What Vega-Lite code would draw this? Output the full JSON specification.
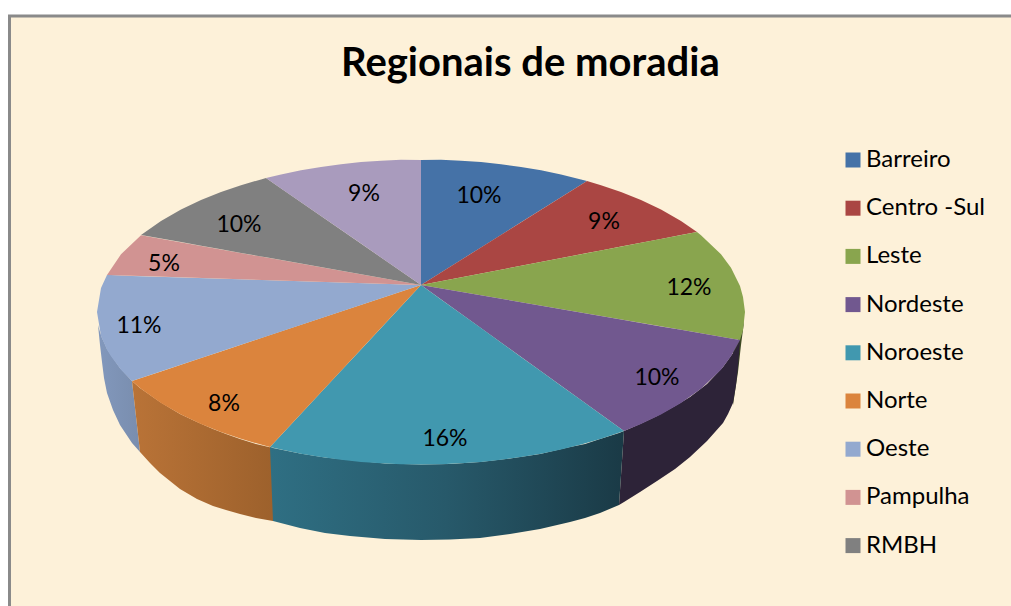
{
"$schema":"https://vega.github.io/schema/vega-lite/v6.json",
"width":1011,"height":606,"padding":0,"autosize":{"type":"none"},
"background":"#ffffff",
"config":{"view":{"stroke":null},"font":"Lato"},
"title":{"text":"Regionais de moradia","font":"Lato","fontSize":40,"fontWeight":"bold","color":"#000000","anchor":"start","frame":"group","offset":0,"dx":341,"dy":84},
"datasets":{
"moldura":[{"x0":9.5,"x1":1100,"y0":16,"y1":700}],
"topo":[
{"regiao":"Barreiro","x":421,"y":160,"y2":285},{"regiao":"Barreiro","x":441,"y":159.8,"y2":272.5},{"regiao":"Barreiro","x":461,"y":160.7,"y2":259.9},{"regiao":"Barreiro","x":481,"y":162.1,"y2":247.4},{"regiao":"Barreiro","x":501,"y":164.2,"y2":234.9},{"regiao":"Barreiro","x":521,"y":166.9,"y2":222.3},{"regiao":"Barreiro","x":541,"y":170.3,"y2":209.8},{"regiao":"Barreiro","x":561,"y":174.5,"y2":197.3},{"regiao":"Barreiro","x":581,"y":179.4,"y2":184.8},{"regiao":"Barreiro","x":587,"y":181,"y2":181},
{"regiao":"Centro -Sul","x":421,"y":285,"y2":285},{"regiao":"Centro -Sul","x":587,"y":181,"y2":253.1},{"regiao":"Centro -Sul","x":601,"y":185.2,"y2":250.4},{"regiao":"Centro -Sul","x":621,"y":192,"y2":246.6},{"regiao":"Centro -Sul","x":641,"y":200,"y2":242.8},{"regiao":"Centro -Sul","x":661,"y":209.6,"y2":238.9},{"regiao":"Centro -Sul","x":681,"y":221,"y2":235.1},{"regiao":"Centro -Sul","x":697,"y":232,"y2":232},
{"regiao":"Leste","x":421,"y":285,"y2":285},{"regiao":"Leste","x":697,"y":232,"y2":332.6},{"regiao":"Leste","x":701,"y":235.3,"y2":333.3},{"regiao":"Leste","x":721,"y":254.3,"y2":336.7},{"regiao":"Leste","x":731,"y":267.7,"y2":338.4},{"regiao":"Leste","x":740,"y":286,"y2":340},{"regiao":"Leste","x":743,"y":297,"y2":330},{"regiao":"Leste","x":745,"y":312,"y2":312},
{"regiao":"Nordeste","x":421,"y":285,"y2":285},{"regiao":"Nordeste","x":624,"y":320,"y2":431},{"regiao":"Nordeste","x":641,"y":323,"y2":424},{"regiao":"Nordeste","x":661,"y":326.4,"y2":414.4},{"regiao":"Nordeste","x":681,"y":329.8,"y2":403},{"regiao":"Nordeste","x":701,"y":333.3,"y2":388.7},{"regiao":"Nordeste","x":721,"y":336.7,"y2":369.7},{"regiao":"Nordeste","x":731,"y":338.4,"y2":356.3},{"regiao":"Nordeste","x":740,"y":340,"y2":340},
{"regiao":"Noroeste","x":270,"y":447,"y2":447},{"regiao":"Noroeste","x":281,"y":435.2,"y2":449.5},{"regiao":"Noroeste","x":301,"y":413.8,"y2":453.7},{"regiao":"Noroeste","x":321,"y":392.3,"y2":457.1},{"regiao":"Noroeste","x":341,"y":370.8,"y2":459.8},{"regiao":"Noroeste","x":361,"y":349.4,"y2":461.9},{"regiao":"Noroeste","x":381,"y":327.9,"y2":463.3},{"regiao":"Noroeste","x":401,"y":306.5,"y2":464.2},{"regiao":"Noroeste","x":421,"y":285,"y2":464.5},{"regiao":"Noroeste","x":441,"y":299.4,"y2":464.2},{"regiao":"Noroeste","x":461,"y":313.8,"y2":463.3},{"regiao":"Noroeste","x":481,"y":328.1,"y2":461.9},{"regiao":"Noroeste","x":501,"y":342.5,"y2":459.8},{"regiao":"Noroeste","x":521,"y":356.9,"y2":457.1},{"regiao":"Noroeste","x":541,"y":371.3,"y2":453.7},{"regiao":"Noroeste","x":561,"y":385.7,"y2":449.5},{"regiao":"Noroeste","x":581,"y":400,"y2":444.6},{"regiao":"Noroeste","x":601,"y":414.4,"y2":438.8},{"regiao":"Noroeste","x":624,"y":431,"y2":431},
{"regiao":"Norte","x":132,"y":381,"y2":381},{"regiao":"Norte","x":141,"y":378,"y2":388.7},{"regiao":"Norte","x":161,"y":371.4,"y2":403},{"regiao":"Norte","x":181,"y":364.7,"y2":414.4},{"regiao":"Norte","x":201,"y":358.1,"y2":424},{"regiao":"Norte","x":221,"y":351.4,"y2":432},{"regiao":"Norte","x":241,"y":344.8,"y2":438.8},{"regiao":"Norte","x":261,"y":338.1,"y2":444.6},{"regiao":"Norte","x":270,"y":335.1,"y2":447},{"regiao":"Norte","x":421,"y":285,"y2":285},
{"regiao":"Oeste","x":97,"y":312,"y2":312},{"regiao":"Oeste","x":101,"y":288.1,"y2":335.9},{"regiao":"Oeste","x":107,"y":275,"y2":349.7},{"regiao":"Oeste","x":111,"y":275.1,"y2":356.3},{"regiao":"Oeste","x":121,"y":275.5,"y2":369.7},{"regiao":"Oeste","x":132,"y":275.9,"y2":381},{"regiao":"Oeste","x":421,"y":285,"y2":285},
{"regiao":"Pampulha","x":107,"y":275,"y2":275},{"regiao":"Pampulha","x":121,"y":254.3,"y2":275.5},{"regiao":"Pampulha","x":141,"y":235.3,"y2":276},{"regiao":"Pampulha","x":421,"y":285,"y2":285},
{"regiao":"RMBH","x":141,"y":235,"y2":235},{"regiao":"RMBH","x":161,"y":221,"y2":238.6},{"regiao":"RMBH","x":181,"y":209.6,"y2":242.1},{"regiao":"RMBH","x":201,"y":200,"y2":245.7},{"regiao":"RMBH","x":221,"y":192,"y2":249.3},{"regiao":"RMBH","x":241,"y":185.2,"y2":252.9},{"regiao":"RMBH","x":261,"y":179.4,"y2":256.4},{"regiao":"RMBH","x":266,"y":178,"y2":257.3},{"regiao":"RMBH","x":421,"y":285,"y2":285},
{"regiao":"Venda Nova","x":266,"y":178,"y2":178},{"regiao":"Venda Nova","x":281,"y":174.5,"y2":188.4},{"regiao":"Venda Nova","x":301,"y":170.3,"y2":202.2},{"regiao":"Venda Nova","x":321,"y":166.9,"y2":216},{"regiao":"Venda Nova","x":341,"y":164.2,"y2":229.8},{"regiao":"Venda Nova","x":361,"y":162.1,"y2":243.6},{"regiao":"Venda Nova","x":381,"y":160.7,"y2":257.4},{"regiao":"Venda Nova","x":401,"y":159.8,"y2":271.2},{"regiao":"Venda Nova","x":421,"y":160,"y2":285}
],
"lado":[
{"regiao":"Oeste","x":98,"y":325,"y2":325},{"regiao":"Oeste","x":100,"y":332,"y2":345},{"regiao":"Oeste","x":102,"y":338,"y2":362},{"regiao":"Oeste","x":104,"y":342,"y2":378},{"regiao":"Oeste","x":107,"y":349,"y2":393},{"regiao":"Oeste","x":113,"y":358,"y2":410},{"regiao":"Oeste","x":120,"y":368,"y2":425},{"regiao":"Oeste","x":132,"y":381,"y2":443},{"regiao":"Oeste","x":140,"y":452,"y2":452},
{"regiao":"Norte","x":132,"y":381,"y2":381},{"regiao":"Norte","x":140,"y":388,"y2":452},{"regiao":"Norte","x":150,"y":395,"y2":463},{"regiao":"Norte","x":160,"y":402,"y2":473},{"regiao":"Norte","x":170,"y":408,"y2":481},{"regiao":"Norte","x":180,"y":414,"y2":489},{"regiao":"Norte","x":197,"y":422,"y2":499},{"regiao":"Norte","x":213,"y":429,"y2":506},{"regiao":"Norte","x":226,"y":434,"y2":510},{"regiao":"Norte","x":240,"y":439,"y2":514},{"regiao":"Norte","x":256,"y":444,"y2":518},{"regiao":"Norte","x":273,"y":448,"y2":521},
{"regiao":"Leste","x":733,"y":350,"y2":405},{"regiao":"Leste","x":736,"y":345,"y2":385},{"regiao":"Leste","x":738,"y":340,"y2":372},{"regiao":"Leste","x":741,"y":335,"y2":345},{"regiao":"Leste","x":744,"y":320,"y2":322},
{"regiao":"Nordeste","x":619,"y":505,"y2":505},{"regiao":"Nordeste","x":624,"y":431,"y2":502},{"regiao":"Nordeste","x":640,"y":424,"y2":492},{"regiao":"Nordeste","x":657,"y":416,"y2":481},{"regiao":"Nordeste","x":675,"y":406,"y2":469},{"regiao":"Nordeste","x":690,"y":397,"y2":457},{"regiao":"Nordeste","x":707,"y":384,"y2":441},{"regiao":"Nordeste","x":723,"y":367,"y2":423},{"regiao":"Nordeste","x":728,"y":360,"y2":414},{"regiao":"Nordeste","x":733,"y":353,"y2":403},{"regiao":"Nordeste","x":736,"y":348,"y2":385},{"regiao":"Nordeste","x":738,"y":344,"y2":367},{"regiao":"Nordeste","x":740,"y":340,"y2":340},
{"regiao":"Noroeste","x":270,"y":447,"y2":447},{"regiao":"Noroeste","x":273,"y":448,"y2":521},{"regiao":"Noroeste","x":300,"y":453.5,"y2":528},{"regiao":"Noroeste","x":325,"y":457.5,"y2":533},{"regiao":"Noroeste","x":350,"y":460,"y2":536},{"regiao":"Noroeste","x":385,"y":463.5,"y2":539},{"regiao":"Noroeste","x":421,"y":464.5,"y2":540},{"regiao":"Noroeste","x":450,"y":464,"y2":539.5},{"regiao":"Noroeste","x":480,"y":462,"y2":538},{"regiao":"Noroeste","x":510,"y":458.5,"y2":534},{"regiao":"Noroeste","x":540,"y":454,"y2":529},{"regiao":"Noroeste","x":570,"y":447,"y2":522},{"regiao":"Noroeste","x":585,"y":444,"y2":518},{"regiao":"Noroeste","x":600,"y":439,"y2":513},{"regiao":"Noroeste","x":619,"y":433,"y2":505},{"regiao":"Noroeste","x":624,"y":431,"y2":431}
],
"rotulos":[
{"regiao":"Barreiro","pct":"10%","x":479,"y":196},{"regiao":"Centro -Sul","pct":"9%","x":604,"y":222},{"regiao":"Leste","pct":"12%","x":689,"y":288},{"regiao":"Nordeste","pct":"10%","x":657,"y":378},{"regiao":"Noroeste","pct":"16%","x":445,"y":439},{"regiao":"Norte","pct":"8%","x":224,"y":404},{"regiao":"Oeste","pct":"11%","x":139,"y":326},{"regiao":"Pampulha","pct":"5%","x":164,"y":264},{"regiao":"RMBH","pct":"10%","x":239,"y":225},{"regiao":"Venda Nova","pct":"9%","x":364,"y":194}
]
},
"data":{"name":"topo"},
"encoding":{
"x":{"field":"x","type":"quantitative","axis":null,"scale":{"domain":[0,1011],"nice":false,"zero":false}},
"y":{"field":"y","type":"quantitative","axis":null,"scale":{"domain":[606,0],"nice":false,"zero":false}}
},
"layer":[
{"data":{"name":"moldura"},"mark":{"type":"rect","fill":"#FDF1D9","stroke":"#8a8a8a","strokeWidth":3,"clip":true},
 "encoding":{"x":{"field":"x0","type":"quantitative"},"x2":{"field":"x1"},"y":{"field":"y0","type":"quantitative"},"y2":{"field":"y1"}}},
{"data":{"name":"lado"},"transform":[{"filter":"datum.regiao==='Oeste'"}],"mark":{"type":"area","color":{"gradient":"linear","x1":0,"y1":0,"x2":1,"y2":0,"stops":[{"offset":0,"color":"#8298bc"},{"offset":1,"color":"#798dae"}]}},"encoding":{"y2":{"field":"y2"}}},
{"data":{"name":"lado"},"transform":[{"filter":"datum.regiao==='Norte'"}],"mark":{"type":"area","color":{"gradient":"linear","x1":0,"y1":0,"x2":1,"y2":0,"stops":[{"offset":0,"color":"#b97337"},{"offset":1,"color":"#9d612c"}]}},"encoding":{"y2":{"field":"y2"}}},
{"data":{"name":"lado"},"transform":[{"filter":"datum.regiao==='Leste'"}],"mark":{"type":"area","color":"#3d4a24"},"encoding":{"y2":{"field":"y2"}}},
{"data":{"name":"lado"},"transform":[{"filter":"datum.regiao==='Nordeste'"}],"mark":{"type":"area","color":"#2d2338"},"encoding":{"y2":{"field":"y2"}}},
{"data":{"name":"lado"},"transform":[{"filter":"datum.regiao==='Noroeste'"}],"mark":{"type":"area","color":{"gradient":"linear","x1":0,"y1":0,"x2":1,"y2":0,"stops":[{"offset":0,"color":"#2f6f83"},{"offset":0.5,"color":"#27596a"},{"offset":1,"color":"#1a3a46"}]}},"encoding":{"y2":{"field":"y2"}}},
{"mark":{"type":"area"},"encoding":{"y2":{"field":"y2"},
 "color":{"field":"regiao","type":"nominal","scale":{"domain":["Barreiro","Centro -Sul","Leste","Nordeste","Noroeste","Norte","Oeste","Pampulha","RMBH","Venda Nova"],"range":["#4572A7","#AA4643","#89A54E","#71588F","#4198AF","#DB843D","#93A9CF","#D19392","#808080","#A99BBD"]},
 "legend":{"title":null,"orient":"none","legendX":841,"legendY":148,"values":["Barreiro","Centro -Sul","Leste","Nordeste","Noroeste","Norte","Oeste","Pampulha","RMBH"],"symbolType":"square","symbolSize":225,"symbolStrokeWidth":0,"symbolOpacity":1,"labelFont":"Lato","labelFontSize":24,"labelColor":"#000000","labelOffset":1,"rowPadding":24.2,"labelLimit":200}}}},
{"data":{"name":"rotulos"},"mark":{"type":"text","font":"Lato","fontSize":23,"color":"#000000","align":"center","baseline":"middle"},"encoding":{"text":{"field":"pct"}}}
]
}
